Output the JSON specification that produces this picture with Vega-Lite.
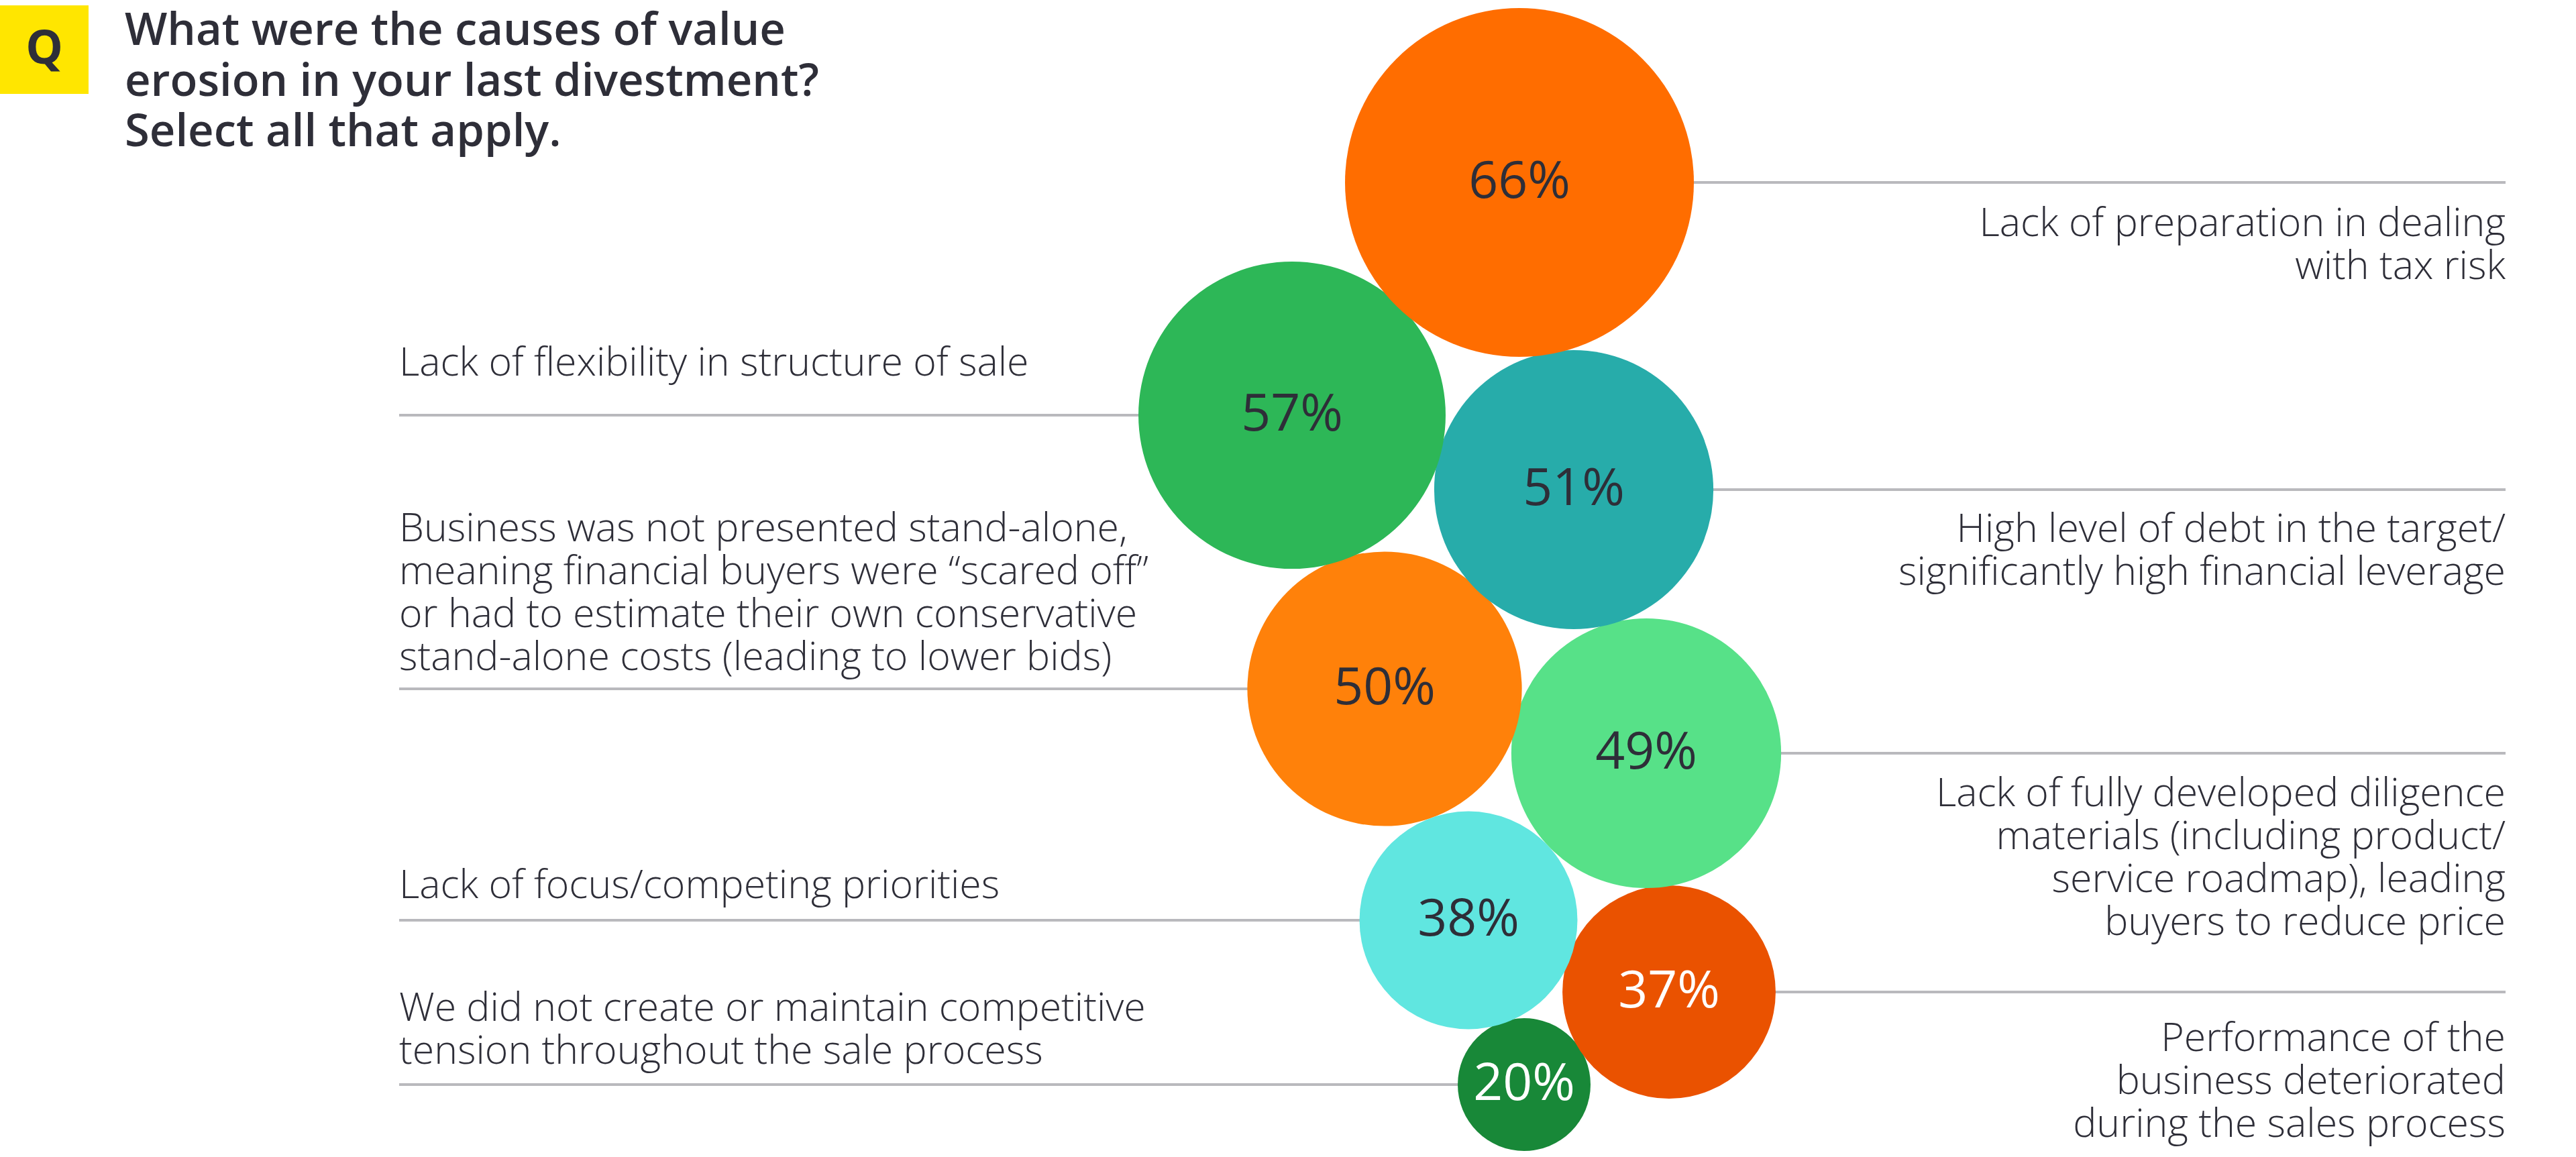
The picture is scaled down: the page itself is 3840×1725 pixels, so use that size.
{
  "$schema": "https://vega.github.io/schema/vega-lite/v6.json",
  "width": 3840,
  "height": 1725,
  "autosize": {"type": "fit", "contains": "padding"},
  "padding": 0,
  "background": "white",
  "config": {"view": {"stroke": null}},
  "datasets": {
    "causes": [
      {"id": "flex", "pct": 0.57, "cx": 1926, "cy": 619, "side": "left", "lineEnd": 595, "labelY": 560, "label": ["Lack of flexibility in structure of sale"]},
      {"id": "debt", "pct": 0.51, "cx": 2346, "cy": 730, "side": "right", "lineEnd": 3735, "labelY": 808, "label": ["High level of debt in the target/", "significantly high financial leverage"]},
      {"id": "standalone", "pct": 0.50, "cx": 2064, "cy": 1027, "side": "left", "lineEnd": 595, "labelY": 807, "label": ["Business was not presented stand-alone,", "meaning financial buyers were “scared off”", "or had to estimate their own conservative", "stand-alone costs (leading to lower bids)"]},
      {"id": "diligence", "pct": 0.49, "cx": 2454, "cy": 1123, "side": "right", "lineEnd": 3735, "labelY": 1202, "label": ["Lack of fully developed diligence", "materials (including product/", "service roadmap), leading", "buyers to reduce price"]},
      {"id": "focus", "pct": 0.38, "cx": 2189, "cy": 1372, "side": "left", "lineEnd": 595, "labelY": 1339, "label": ["Lack of focus/competing priorities"]},
      {"id": "performance", "pct": 0.37, "cx": 2488, "cy": 1479, "side": "right", "lineEnd": 3735, "labelY": 1567, "label": ["Performance of the", "business deteriorated", "during the sales process"]},
      {"id": "tension", "pct": 0.20, "cx": 2272, "cy": 1617, "side": "left", "lineEnd": 595, "labelY": 1522, "label": ["We did not create or maintain competitive", "tension throughout the sale process"]},
      {"id": "tax", "pct": 0.66, "cx": 2265, "cy": 272, "side": "right", "lineEnd": 3735, "labelY": 352, "label": ["Lack of preparation in dealing", "with tax risk"]}
    ]
  },
  "layer": [
    {
      "data": {"name": "causes"},
      "mark": {"type": "rule", "color": "#B9B9BD", "strokeWidth": 4},
      "encoding": {
        "x": {"field": "cx", "type": "quantitative", "axis": null, "scale": {"domain": [0, 3840], "nice": false, "zero": false}},
        "x2": {"field": "lineEnd"},
        "y": {"field": "cy", "type": "quantitative", "axis": null, "scale": {"domain": [0, 1725], "nice": false, "zero": false, "reverse": true}}
      }
    },
    {
      "data": {"name": "causes"},
      "mark": {"type": "circle", "opacity": 1, "strokeWidth": 0},
      "encoding": {
        "x": {"field": "cx", "type": "quantitative", "axis": null, "scale": {"domain": [0, 3840], "nice": false, "zero": false}},
        "y": {"field": "cy", "type": "quantitative", "axis": null, "scale": {"domain": [0, 1725], "nice": false, "zero": false, "reverse": true}},
        "size": {"field": "pct", "type": "quantitative", "legend": null, "scale": {"type": "pow", "exponent": 1.8, "domain": [0.2, 0.66], "range": [39204, 270400], "zero": false}},
        "color": {"field": "id", "type": "nominal", "legend": null, "scale": {"domain": ["tax", "flex", "debt", "standalone", "diligence", "focus", "performance", "tension"], "range": ["#FF6D00", "#2DB757", "#27ACAA", "#FF810A", "#57E188", "#60E6E0", "#EA5200", "#188838"]}},
        "order": {"field": "pct", "type": "quantitative"}
      }
    },
    {
      "data": {"name": "causes"},
      "mark": {"type": "text", "font": "Open Sans", "fontSize": 77, "fontWeight": 400, "align": "center", "baseline": "middle"},
      "encoding": {
        "x": {"field": "cx", "type": "quantitative"},
        "y": {"field": "cy", "type": "quantitative"},
        "text": {"field": "pct", "type": "quantitative", "format": ".0%"},
        "color": {"condition": {"test": "datum.pct < 0.375", "value": "#FFFFFF"}, "value": "#2E2E38"}
      }
    },
    {
      "data": {"name": "causes"},
      "transform": [{"filter": "datum.side === 'left'"}],
      "mark": {"type": "text", "font": "Open Sans", "fontSize": 59, "fontWeight": 300, "align": "left", "baseline": "alphabetic", "lineHeight": 64, "color": "#2E2E38"},
      "encoding": {
        "x": {"field": "lineEnd", "type": "quantitative"},
        "y": {"field": "labelY", "type": "quantitative"},
        "text": {"field": "label"}
      }
    },
    {
      "data": {"name": "causes"},
      "transform": [{"filter": "datum.side === 'right'"}],
      "mark": {"type": "text", "font": "Open Sans", "fontSize": 59, "fontWeight": 300, "align": "right", "baseline": "alphabetic", "lineHeight": 64, "color": "#2E2E38"},
      "encoding": {
        "x": {"field": "lineEnd", "type": "quantitative"},
        "y": {"field": "labelY", "type": "quantitative"},
        "text": {"field": "label"}
      }
    },
    {
      "data": {"values": [{"x0": 0, "x1": 132, "y0": 8, "y1": 140}]},
      "mark": {"type": "rect", "color": "#FFE600"},
      "encoding": {
        "x": {"field": "x0", "type": "quantitative"},
        "x2": {"field": "x1"},
        "y": {"field": "y0", "type": "quantitative"},
        "y2": {"field": "y1"}
      }
    },
    {
      "data": {"values": [{"q": "Q", "qx": 66, "qy": 95}]},
      "mark": {"type": "text", "font": "Open Sans", "fontSize": 70, "fontWeight": 700, "align": "center", "baseline": "alphabetic", "color": "#2E2E38"},
      "encoding": {
        "x": {"field": "qx", "type": "quantitative"},
        "y": {"field": "qy", "type": "quantitative"},
        "text": {"field": "q"}
      }
    },
    {
      "data": {"values": [{"t": ["What were the causes of value", "erosion in your last divestment?", "Select all that apply."], "tx": 186, "ty": 67}]},
      "mark": {"type": "text", "font": "Open Sans", "fontSize": 67, "fontWeight": 600, "align": "left", "baseline": "alphabetic", "lineHeight": 75.5, "color": "#2E2E38"},
      "encoding": {
        "x": {"field": "tx", "type": "quantitative"},
        "y": {"field": "ty", "type": "quantitative"},
        "text": {"field": "t"}
      }
    }
  ]
}
